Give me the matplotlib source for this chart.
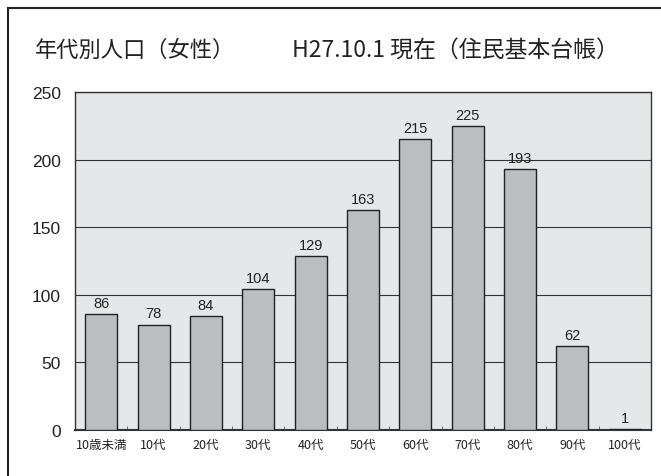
import matplotlib.pyplot as plt
from matplotlib.patches import Rectangle

plt.rcParams['font.family'] = ['Noto Sans CJK JP', 'DejaVu Sans']

categories = ["10歳未満", "10代", "20代", "30代", "40代", "50代", "60代", "70代", "80代", "90代", "100代"]
values = [86, 78, 84, 104, 129, 163, 215, 225, 193, 62, 1]

fig = plt.figure(figsize=(6.61, 4.77), dpi=100)
# outer frame (left and top edges visible)
fig.patches.append(Rectangle((8/661, -0.1), 1.2, (477 - 9)/477 + 0.1, transform=fig.transFigure,
                             fill=False, edgecolor="#222222", linewidth=1.5))

ax = fig.add_axes([75/661, 1 - 431/477, (651 - 75)/661, (431 - 93)/477])
ax.set_facecolor("#e6e7e8")

x = list(range(len(categories)))
ax.bar(x, values, width=0.61, color="#bcbdc0", edgecolor="#222222", linewidth=1.0, zorder=3)
for xi, v in zip(x, values):
    ax.text(xi, v + 3, str(v), ha="center", va="bottom", fontsize=10.5, color="#222222",
            family=["Liberation Sans Narrow", "Liberation Sans"], zorder=4)

ax.set_xlim(-0.5, len(categories) - 0.5)
ax.set_ylim(0, 250)
ax.set_yticks([0, 50, 100, 150, 200, 250])
ax.yaxis.grid(True, color="#333333", linewidth=0.8, zorder=1)
ax.set_axisbelow(True)
ax.tick_params(axis="y", length=0, labelsize=12.5, colors="#222222", pad=10)
for lab in ax.get_yticklabels():
    lab.set_family("Liberation Sans")
ax.set_xticks(x)
ax.set_xticklabels(categories, fontsize=9)
ax.tick_params(axis="x", length=0, pad=6, colors="#222222")
ax.set_xticks([i + 0.5 for i in x[:-1]], minor=True)
ax.tick_params(axis="x", which="minor", direction="in", length=3, color="#555555")
for s in ax.spines.values():
    s.set_color("#333333")
    s.set_linewidth(1.0)
ax.spines["bottom"].set_linewidth(1.5)

fig.text(35/661, 1 - 50/477, "年代別人口（女性）",
         fontsize=16, va="center", ha="left", color="#222222")
fig.text(292/661, 1 - 50/477, "H27.10.1 現在（住民基本台帳）",
         fontsize=16.5, va="center", ha="left", color="#222222")

fig.savefig("out.png", dpi=100)
